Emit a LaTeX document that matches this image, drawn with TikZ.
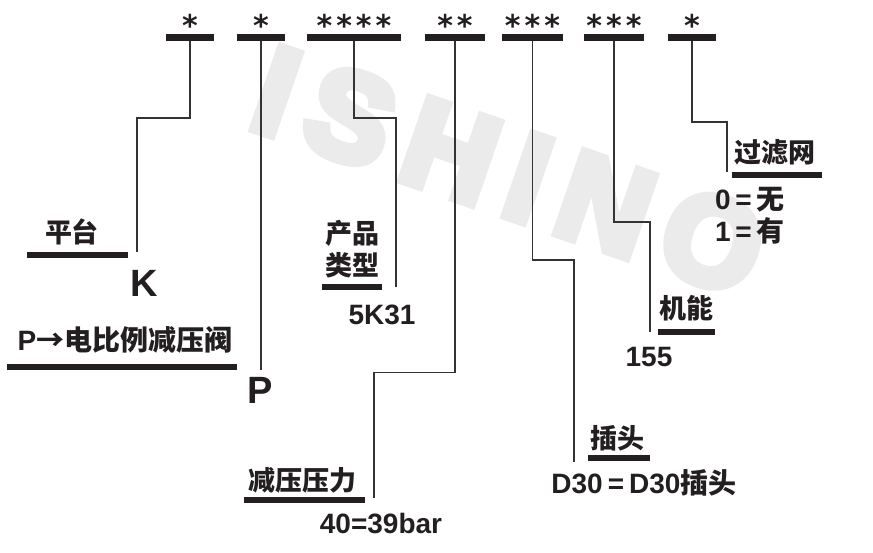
\documentclass[tikz,border=0pt]{standalone}
\usepackage{fontspec}
\setmainfont{Liberation Sans}
\newfontfamily\cjk{Noto Sans CJK SC}
\newfontfamily\starfont{DejaVu Sans}
\newfontfamily\wmfont{Liberation Sans}[BoldFeatures={FakeBold=8,LetterSpace=16}]
\usetikzlibrary{positioning}

\definecolor{ink}{HTML}{231F20}
\definecolor{wiregray}{HTML}{333333}
\definecolor{wmgray}{HTML}{EBEBEB}

\newcommand\sk{\kern4pt}
\newcommand\eq{\kern5pt=\kern5pt}

\tikzset{
  topbar/.style={fill=ink, inner sep=0pt, minimum height=7, minimum width=#1},
  ulbar/.style={fill=ink, inner sep=0pt, minimum height=6, minimum width=#1},
  wire/.style={draw=wiregray, line width=1.4pt},
  lbl/.style={inner sep=0pt, text=ink, font=\fontsize{28}{32}\selectfont\bfseries},
  zh/.style={lbl, font=\fontsize{27}{32}\selectfont\cjk\bfseries},
  big/.style={lbl, font=\fontsize{38}{40}\selectfont\bfseries},
  starlbl/.style={lbl, anchor=north, font=\fontsize{30}{30}\selectfont\starfont\bfseries},
  wm/.style={inner sep=0pt, text=wmgray, anchor=base west, rotate=-19,
    font=\fontsize{124}{124}\selectfont\wmfont\bfseries}
}

\begin{document}
\begin{tikzpicture}[x=1pt,y=-1pt]
  \useasboundingbox (0,0) rectangle (873,553);

  % watermark behind everything
  \node[wm] (logo) at (246,126) {ISHINO};

  % code fields along the top
  \foreach \name/\cx/\w/\marks in {b1/190/48/*, b2/261/48/*,
      b3/354/94/{*\sk*\sk*\sk*}, b4/455/60/{*\sk*}, b5/532.5/61/{*\sk*\sk*},
      b6/614/60/{*\sk*\sk*}, b7/692/48/*} {
    \node[topbar=\w] (\name) at (\cx,37.5) {};
    \node[starlbl] (\name-marks) at (\cx,14) {\marks};
  }

  % free ends of the leaders
  \coordinate (e1) at (137,252);
  \coordinate (e2) at (261,370);
  \coordinate (e3) at (396,287);
  \coordinate (e4) at (374,498);
  \coordinate (e5) at (574,462);
  \coordinate (e6) at (650,332);
  \coordinate (e7) at (727,172);

  % leaders
  \draw[wire] (b1.south) -- ++(0,77) -| (e1);
  \draw[wire] (b2.south) -- (e2);
  \draw[wire] (b3.south) -- ++(0,77) -| (e3);
  \draw[wire] (b4.south) -- ++(0,331) -| (e4);
  \draw[wire] (b5.south) -- ++(0,219) -| (e5);
  \draw[wire] (b6.south) -- ++(0,181) -| (e6);
  \draw[wire] (b7.south) -- ++(0,81) -| (e7);

  % platform
  \node[zh] (plat) at (72,232) {平台};
  \node[ulbar=101] (plat-ul) at (77.5,255) {};
  \node[big] (plat-val) at (144,283) {K};

  % valve
  \node[lbl] (valve) at (125,340) {P{\cjk →电比例减压阀}};
  \node[ulbar=230] (valve-ul) at (122,367) {};
  \node[big] (valve-val) at (260,390) {P};

  % product type
  \node[zh, align=center] (type) at (352,249) {产品\\类型};
  \node[ulbar=60] (type-ul) at (352,287) {};
  \node[lbl] (type-val) at (382,315) {5K31};

  % pressure
  \node[zh] (press) at (302,480) {减压压力};
  \node[ulbar=121] (press-ul) at (304.5,500) {};
  \node[lbl] (press-val) at (381,524) {40=39bar};

  % plug
  \node[zh] (plug) at (617,438) {插头};
  \node[ulbar=62] (plug-ul) at (619,458) {};
  \node[lbl] (plug-val) at (644,483) {D30\eq D30{\cjk 插头}};

  % function
  \node[zh] (func) at (686,308) {机能};
  \node[ulbar=57] (func-ul) at (686.5,332) {};
  \node[lbl] (func-val) at (649,357) {155};

  % filter
  \node[zh] (filt) at (775,152) {过滤网};
  \node[ulbar=90] (filt-ul) at (777,175) {};
  \node[lbl, align=left, anchor=west] (filt-val) at (715,216)
    {0\,=\,{\cjk 无}\\1\,=\,{\cjk 有}};
\end{tikzpicture}
\end{document}
